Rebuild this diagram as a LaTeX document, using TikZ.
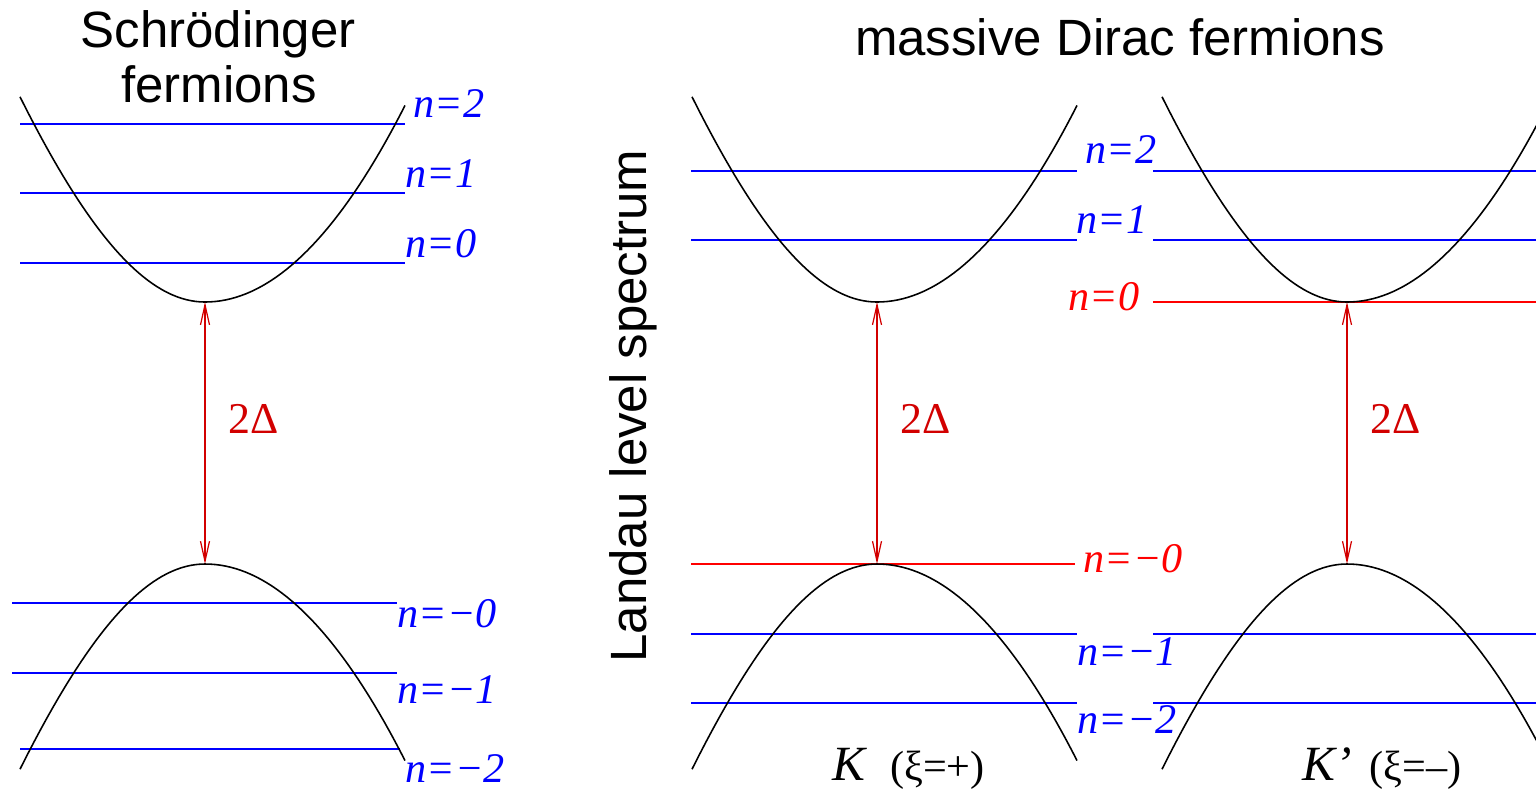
\documentclass[tikz,border=0pt]{standalone}
\usepackage{fontspec}
\setmainfont{Liberation Serif}
\newfontfamily\headfont{Liberation Sans}
\usetikzlibrary{arrows.meta, positioning}
\definecolor{lvlblue}{RGB}{0,0,255}
\definecolor{zerored}{RGB}{255,0,0}
\definecolor{gapred}{RGB}{210,0,0}

\begin{document}
\begin{tikzpicture}[x=0.01cm, y=-0.01cm,
  band/.style={black, line width=0.45pt},
  level/.style={lvlblue, line width=0.5pt},
  zerolevel/.style={zerored, line width=0.5pt},
  nlbl/.style={font=\fontsize{12}{14}\selectfont\itshape, text=lvlblue, anchor=base west, inner sep=0pt},
  gaparrow/.style={gapred, line width=0.35pt, {Straight Barb[length=2mm,width=0.9mm]}-{Straight Barb[length=2mm,width=0.9mm]}},
  gaplbl/.style={font=\fontsize{12.5}{14}\selectfont, text=gapred, anchor=base west, inner sep=0pt},
  head/.style={font=\headfont\fontsize{14.5}{17}\selectfont, anchor=base, inner sep=0pt}
]
  \useasboundingbox (0,0) rectangle (1536,790);
  \clip (0,0) rectangle (1536,790);

  % titles
  \node[head] (tSch) at (218,47) {Schrödinger};
  \node[head] (tFerm) at (219,102) {fermions};
  \node[head] (tDirac) at (1120,55) {massive Dirac fermions};
  \node[head, rotate=90] (tLandau) at (646,406) {Landau level spectrum};

  % Schroedinger levels
  \draw[level] (20,124) -- (405,124);
  \draw[level] (20,193) -- (405,193);
  \draw[level] (20,263) -- (405,263);
  \draw[level] (12,603) -- (397,603);
  \draw[level] (12,673) -- (397,673);
  \draw[level] (20,749) -- (400,749);

  % Dirac levels, K and K'
  \draw[level] (691,171) -- (1077,171);
  \draw[level] (691,240) -- (1077,240);
  \draw[zerolevel] (691,564) -- (1075,564);
  \draw[level] (691,634) -- (1077,634);
  \draw[level] (691,703) -- (1077,703);
  \draw[level] (1153,171) -- (1540,171);
  \draw[level] (1153,240) -- (1540,240);
  \draw[zerolevel] (1153,302) -- (1540,302);
  \draw[level] (1153,634) -- (1540,634);
  \draw[level] (1153,703) -- (1540,703);

  % bands
  \foreach \vx in {205, 877, 1347} {
    \draw[band, shift={(\vx,302)}] plot[domain=-185:0, samples=40] (\x, {-841*(sqrt(1+(\x/250)^2)-1)})
      -- plot[domain=0:200, samples=40] (\x, {-0.00492*\x*\x});
    \draw[band, shift={(\vx,564)}, yscale=-1] plot[domain=-185:0, samples=40] (\x, {-841*(sqrt(1+(\x/250)^2)-1)})
      -- plot[domain=0:200, samples=40] (\x, {-0.00492*\x*\x});
  }

  % gaps
  \coordinate (topL) at (205,302);
  \coordinate (botL) at (205,564);
  \coordinate (topK) at (877,302);
  \coordinate (botK) at (877,564);
  \coordinate (topKp) at (1347,302);
  \coordinate (botKp) at (1347,564);
  \draw[gaparrow] (topL) -- (botL);
  \draw[gaparrow] (topK) -- (botK);
  \draw[gaparrow] (topKp) -- (botKp);
  \node[gaplbl] (gapL) at (228,433) {2Δ};
  \node[gaplbl] (gapK) at (900,433) {2Δ};
  \node[gaplbl] (gapKp) at (1370,433) {2Δ};

  % level labels
  \node[nlbl] (sTwo) at (413,117) {n=2};
  \node[nlbl] (sOne) at (405,187) {n=1};
  \node[nlbl] (sZero) at (405,257) {n=0};
  \node[nlbl] (sMZero) at (397,627) {n=−0};
  \node[nlbl] (sMOne) at (397,703) {n=−1};
  \node[nlbl] (sMTwo) at (405,782) {n=−2};
  \node[nlbl] (dTwo) at (1085,163) {n=2};
  \node[nlbl] (dOne) at (1076,233) {n=1};
  \node[nlbl, text=zerored] (dZero) at (1068,310) {n=0};
  \node[nlbl, text=zerored] (dMZero) at (1083,572) {n=−0};
  \node[nlbl] (dMOne) at (1077,665) {n=−1};
  \node[nlbl] (dMTwo) at (1077,733) {n=−2};

  % valleys
  \node[anchor=base west, inner sep=0pt] (kLbl) at (832,780)
    {\fontsize{14}{16}\selectfont\itshape K\hspace{7pt}\upshape\fontsize{12}{14}\selectfont(ξ=+)};
  \node[anchor=base west, inner sep=0pt] (kpLbl) at (1302,780)
    {\fontsize{14}{16}\selectfont\itshape K’\hspace{5pt}\upshape\fontsize{12}{14}\selectfont(ξ=–)};
\end{tikzpicture}
\end{document}
